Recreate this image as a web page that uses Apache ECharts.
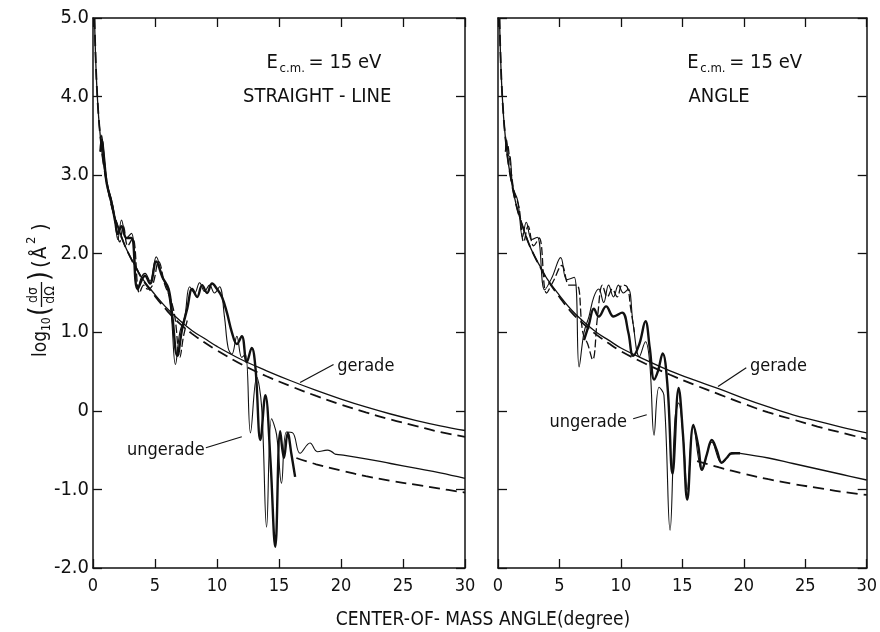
<!DOCTYPE html>
<html>
<head>
<meta charset="UTF-8">
<title>log10 dσ/dΩ vs center-of-mass angle</title>
<script src="https://cdn.jsdelivr.net/npm/echarts@6/dist/echarts.min.js"></script>
<style>html,body{margin:0;background:#fff}#main{width:880px;height:632px}</style>
</head>
<body>
<div id="main"></div>
<script>
// smooth curves (gerade / ungerade), x in degrees
var smoothX   = [0.12, 0.2, 0.3, 0.45, 0.6, 0.8, 1, 1.3, 1.6, 2, 2.5, 3, 3.5, 4, 5, 6, 7, 8, 9, 10, 12, 14, 16, 18, 20, 22, 24, 26, 28, 30];
var gerSolidL = [5.0, 4.55, 4.15, 3.75, 3.48, 3.2, 3.0, 2.75, 2.55, 2.35, 2.13, 1.96, 1.82, 1.68, 1.48, 1.3, 1.15, 1.02, 0.92, 0.82, 0.65, 0.51, 0.38, 0.26, 0.15, 0.05, -0.04, -0.12, -0.19, -0.25];
var gerDashL  = [5.0, 4.55, 4.15, 3.75, 3.48, 3.2, 3.0, 2.75, 2.55, 2.35, 2.13, 1.96, 1.81, 1.67, 1.46, 1.27, 1.11, 0.98, 0.87, 0.77, 0.59, 0.44, 0.31, 0.19, 0.08, -0.02, -0.11, -0.19, -0.27, -0.33];
var gerSolidR = [5.0, 4.55, 4.15, 3.75, 3.48, 3.2, 3.0, 2.75, 2.55, 2.35, 2.13, 1.96, 1.82, 1.68, 1.47, 1.28, 1.13, 1.0, 0.9, 0.8, 0.65, 0.51, 0.39, 0.28, 0.16, 0.05, -0.05, -0.13, -0.21, -0.28];
var gerDashR  = [5.0, 4.55, 4.15, 3.75, 3.48, 3.2, 3.0, 2.75, 2.55, 2.35, 2.13, 1.96, 1.81, 1.67, 1.45, 1.25, 1.1, 0.97, 0.86, 0.76, 0.6, 0.46, 0.33, 0.21, 0.09, -0.02, -0.11, -0.2, -0.28, -0.36];

var ungSolidXL = [19.5, 20, 22, 24, 26, 28, 30];
var ungSolidL  = [-0.55, -0.56, -0.61, -0.67, -0.73, -0.79, -0.86];
var ungDashXL  = [16.4, 18, 20, 22, 24, 26, 28, 30];
var ungDashL   = [-0.6, -0.68, -0.76, -0.83, -0.89, -0.94, -0.99, -1.04];
var ungSolidXR = [19.7, 22, 24, 26, 28, 30];
var ungSolidR  = [-0.54, -0.6, -0.67, -0.74, -0.81, -0.88];
var ungDashXR  = [16.2, 18, 20, 22, 24, 26, 28, 30];
var ungDashR   = [-0.64, -0.72, -0.8, -0.87, -0.93, -0.98, -1.03, -1.07];

// oscillating curves, STRAIGHT-LINE panel
var thickXL = [0.6, 0.7, 0.9, 1.1, 1.5, 1.8, 2.0, 2.3, 2.7, 3.1, 3.6, 4.2, 4.6, 5.1, 5.6, 6.1, 6.4, 6.8, 7.2, 7.6, 8.0, 8.4, 8.8, 9.2, 9.6, 10.0, 10.4, 10.8, 11.2, 11.6, 12.0, 12.4, 12.8, 13.1, 13.5, 13.9, 14.3, 14.7, 15.1, 15.4, 15.7, 16.0, 16.3];
var thickL  = [3.3, 3.45, 3.2, 2.9, 2.65, 2.4, 2.25, 2.35, 2.2, 2.2, 1.55, 1.72, 1.62, 1.9, 1.7, 1.55, 1.2, 0.7, 1.05, 1.3, 1.55, 1.45, 1.6, 1.5, 1.62, 1.55, 1.45, 1.25, 1.0, 0.85, 0.95, 0.62, 0.8, 0.55, -0.37, 0.2, -0.6, -1.73, -0.26, -0.6, -0.28, -0.55, -0.84];
var thinXL  = [0.6, 0.7, 0.85, 1.1, 1.5, 1.77, 2.0, 2.3, 2.7, 3.1, 3.6, 3.9, 4.2, 4.6, 5.1, 5.6, 6.0, 6.3, 6.65, 7.0, 7.4, 7.8, 8.2, 8.6, 9.0, 9.4, 9.8, 10.2, 10.6, 10.9, 11.2, 11.6, 12.0, 12.3, 12.7, 13.2, 13.6, 14.0, 14.4, 14.8, 15.2, 15.6, 16.1, 16.7, 17.5, 18.1, 18.9, 19.5];
var thinL   = [3.3, 3.51, 3.3, 2.91, 2.68, 2.43, 2.18, 2.43, 2.2, 2.26, 1.54, 1.7, 1.75, 1.65, 1.96, 1.7, 1.55, 1.25, 0.59, 1.0, 1.2, 1.58, 1.5, 1.63, 1.52, 1.6, 1.5, 1.58, 1.2, 0.8, 0.72, 0.95, 0.68, 0.72, -0.28, 0.43, 0.05, -1.48, -0.1, -0.3, -0.92, -0.27, -0.28, -0.54, -0.41, -0.52, -0.5, -0.55];
var dashXL  = [0.6, 0.75, 0.9, 1.2, 1.6, 1.9, 2.15, 2.45, 2.8, 3.2, 3.75, 4.1, 4.4, 4.8, 5.3, 5.8, 6.2, 6.6, 7.0, 7.3, 7.6];
var dashL   = [3.3, 3.45, 3.2, 2.85, 2.6, 2.3, 2.15, 2.35, 2.1, 2.2, 1.5, 1.6, 1.55, 1.6, 1.9, 1.6, 1.45, 1.2, 0.68, 0.95, 1.15];

// oscillating curves, ANGLE panel
var thinXR  = [0.6, 0.7, 0.85, 1.0, 1.2, 1.6, 2.0, 2.3, 2.75, 3.2, 3.8, 4.4, 5.1, 5.6, 6.2, 6.6, 7.0, 7.4, 7.8, 8.2, 8.6, 9.0, 9.4, 9.8, 10.2, 10.6, 11.0, 11.5, 12.0, 12.35, 12.7, 13.1, 13.5, 14.0, 14.4, 14.7, 15.1, 15.4, 15.9, 16.6, 17.4, 18.2, 19.0, 19.7];
var thinR   = [3.3, 3.45, 3.25, 3.23, 2.85, 2.68, 2.21, 2.4, 2.18, 2.21, 1.54, 1.7, 1.95, 1.67, 1.7, 0.56, 1.0, 1.2, 1.45, 1.55, 1.38, 1.6, 1.45, 1.6, 1.5, 1.55, 1.1, 0.69, 0.88, 0.6, -0.31, 0.3, 0.2, -1.52, -0.1, 0.1, -0.4, -1.0, -0.2, -0.75, -0.4, -0.66, -0.55, -0.54];
var thickXR = [7.0, 7.4, 7.8, 8.2, 8.8, 9.4, 10.1, 10.6, 11.0, 11.5, 12.0, 12.35, 12.7, 13.0, 13.4, 13.8, 14.2, 14.7, 15.05, 15.4, 15.9, 16.3, 16.6, 17.0, 17.4, 17.8, 18.2, 18.6, 19.0, 19.7];
var thickR  = [0.9, 1.1, 1.3, 1.2, 1.33, 1.2, 1.25, 1.0, 0.7, 0.85, 1.14, 0.8, 0.4, 0.5, 0.73, 0.3, -0.8, 0.29, -0.3, -1.13, -0.18, -0.45, -0.75, -0.55, -0.37, -0.5, -0.66, -0.6, -0.54, -0.54];
var dashXR  = [0.6, 0.75, 0.95, 1.3, 1.7, 2.1, 2.45, 2.9, 3.35, 3.95, 4.5, 5.2, 5.8, 6.4, 6.9, 7.3, 7.7, 8.1, 8.5, 8.9, 9.3, 9.7, 10.1, 10.5, 10.8, 11.1];
var dashR   = [3.3, 3.4, 3.2, 2.8, 2.6, 2.15, 2.35, 2.1, 2.2, 1.5, 1.65, 1.85, 1.6, 1.6, 1.0, 0.85, 0.65, 1.2, 1.6, 1.45, 1.55, 1.45, 1.6, 1.58, 1.3, 1.0];

var yTicks = ['-2.0', '-1.0', '0', '1.0', '2.0', '3.0', '4.0', '5.0'];

var FONT = '"Liberation Sans Narrow", "DejaVu Sans Condensed", "Liberation Sans", sans-serif';
var INK = '#111';

var myChart = echarts.init(document.getElementById('main'));

function pairs(xs, ys) {
    return xs.map(function (x, i) { return [x, ys[i]]; });
}

function xAxisFor(grid, pos, showLabel) {
    return {
        type: 'value', gridIndex: grid, position: pos, min: 0, max: 30, interval: 5,
        axisLine: { show: true, onZero: false, lineStyle: { color: INK, width: 1.5 } },
        axisTick: { show: true, inside: true, length: 9, lineStyle: { color: INK, width: 1.3 } },
        axisLabel: { show: showLabel, color: INK, fontSize: 18, fontFamily: FONT, margin: 9 },
        splitLine: { show: false }
    };
}

function yAxisFor(grid, pos, showLabel) {
    return {
        type: 'value', gridIndex: grid, position: pos, min: -2, max: 5, interval: 1,
        axisLine: { show: true, onZero: false, lineStyle: { color: INK, width: 1.5 } },
        axisTick: { show: true, inside: true, length: 9, lineStyle: { color: INK, width: 1.3 } },
        axisLabel: {
            show: showLabel, color: INK, fontSize: 20, fontFamily: FONT, margin: 4,
            formatter: function (v) { return yTicks[Math.round(v) + 2]; }
        },
        splitLine: { show: false }
    };
}

function line(name, grid, data, width, dash) {
    return {
        name: name, type: 'line', xAxisIndex: grid * 2, yAxisIndex: grid * 2,
        data: data, showSymbol: false, smooth: 0.4, silent: true,
        lineStyle: { color: INK, width: width, type: dash || 'solid' }
    };
}

var option = {
    animation: false,
    backgroundColor: '#fff',
    grid: [
        { left: 93, top: 18, width: 372, height: 550 },
        { left: 498, top: 18, width: 371, height: 550 }
    ],
    xAxis: [
        xAxisFor(0, 'bottom', true), xAxisFor(0, 'top', false),
        xAxisFor(1, 'bottom', true), xAxisFor(1, 'top', false)
    ],
    yAxis: [
        yAxisFor(0, 'left', true), yAxisFor(0, 'right', false),
        yAxisFor(1, 'left', false), yAxisFor(1, 'right', false)
    ],
    series: [
        line('gerade', 0, pairs(smoothX, gerSolidL), 1.3),
        line('gerade dashed', 0, pairs(smoothX, gerDashL), 1.8, [11, 6]),
        line('ungerade', 0, pairs(ungSolidXL, ungSolidL), 1.3),
        line('ungerade dashed', 0, pairs(ungDashXL, ungDashL), 1.8, [11, 6]),
        line('thin', 0, pairs(thinXL, thinL), 1.1),
        line('thick', 0, pairs(thickXL, thickL), 2.4),
        line('dash', 0, pairs(dashXL, dashL), 1.3, [8, 3]),

        line('gerade', 1, pairs(smoothX, gerSolidR), 1.3),
        line('gerade dashed', 1, pairs(smoothX, gerDashR), 1.8, [11, 6]),
        line('ungerade', 1, pairs(ungSolidXR, ungSolidR), 1.3),
        line('ungerade dashed', 1, pairs(ungDashXR, ungDashR), 1.8, [11, 6]),
        line('thin', 1, pairs(thinXR, thinR), 1.1),
        line('thick', 1, pairs(thickXR, thickR), 2.4),
        line('dash', 1, pairs(dashXR, dashR), 1.3, [8, 3])
    ]
};
myChart.setOption(option);

// annotations placed in data coordinates
function px(grid, x, y) {
    return myChart.convertToPixel({ gridIndex: grid }, [x, y]);
}
function txt(p, s, size, align) {
    return {
        type: 'text', x: p[0], y: p[1],
        style: { text: s, fill: INK, font: size + 'px ' + FONT, align: align || 'left', verticalAlign: 'middle', textAlign: align || 'left', textVerticalAlign: 'middle' }
    };
}
function seg(a, b) {
    return { type: 'line', shape: { x1: a[0], y1: a[1], x2: b[0], y2: b[1] }, style: { stroke: INK, lineWidth: 1.2 } };
}
function energy(grid, x, y) {
    var p = px(grid, x, y);
    return [
        txt(p, 'E', 20),
        txt([p[0] + 13, p[1] + 6], 'c.m.', 13),
        txt([p[0] + 42, p[1]], '= 15 eV', 20)
    ];
}

var g = [];
g = g.concat(energy(0, 14.0, 4.43));
g.push(txt(px(0, 12.1, 4.0), 'STRAIGHT - LINE', 20));
g = g.concat(energy(1, 15.4, 4.43));
g.push(txt(px(1, 15.5, 4.0), 'ANGLE', 20));

g.push(txt(px(0, 19.7, 0.57), 'gerade', 18));
g.push(seg(px(0, 19.4, 0.59), px(0, 16.7, 0.36)));
g.push(txt(px(0, 9.0, -0.5), 'ungerade', 18, 'right'));
g.push(seg(px(0, 9.1, -0.47), px(0, 12.0, -0.33)));

g.push(txt(px(1, 20.5, 0.57), 'gerade', 18));
g.push(seg(px(1, 20.2, 0.55), px(1, 17.9, 0.31)));
g.push(txt(px(1, 10.5, -0.14), 'ungerade', 18, 'right'));
g.push(seg(px(1, 11.0, -0.1), px(1, 12.1, -0.05)));

// x axis title
g.push({
    type: 'text', x: 483, y: 620,
    style: { text: 'CENTER-OF- MASS ANGLE(degree)', fill: INK, font: '19px ' + FONT, align: 'center', verticalAlign: 'middle', textAlign: 'center', textVerticalAlign: 'middle' }
});

// y axis title, rotated
function lt(s, x, y, size, align) {
    return {
        type: 'text',
        style: { text: s, x: x, y: y, fill: INK, font: size + 'px ' + FONT, align: align || 'left', verticalAlign: 'middle', textAlign: align || 'left', textVerticalAlign: 'middle' }
    };
}
g.push({
    type: 'group', x: 41, y: 357, rotation: Math.PI / 2,
    children: [
        lt('log', 0, 0, 19),
        lt('10', 26, 6, 12),
        lt('(', 41, 1, 28),
        lt('dσ', 62, -8, 14, 'center'),
        { type: 'line', shape: { x1: 50, y1: 0.5, x2: 75, y2: 0.5 }, style: { stroke: INK, lineWidth: 1.3 } },
        lt('dΩ', 62, 9, 14, 'center'),
        lt(')', 76, 1, 28),
        lt('(', 89, 0, 22),
        lt('Å', 98, 0, 20),
        lt('2', 113, -9, 13),
        lt(')', 126, 0, 22)
    ]
});

myChart.setOption({ graphic: g });
</script>
</body>
</html>
